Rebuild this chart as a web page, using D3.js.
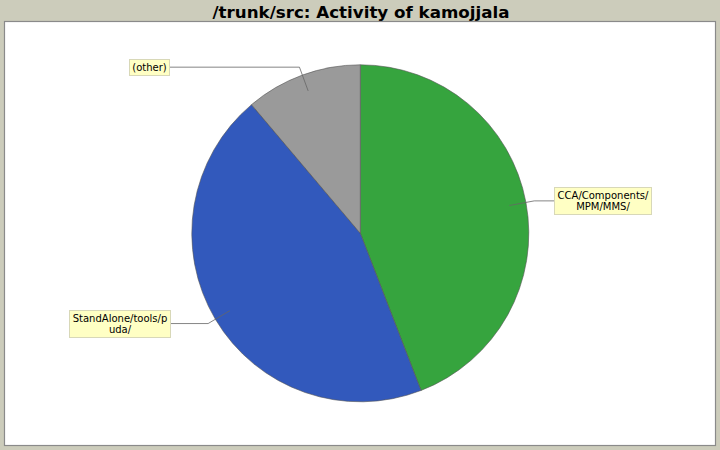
<!DOCTYPE html>
<html>
<head>
<meta charset="utf-8">
<script src="https://cdn.jsdelivr.net/npm/d3@7"></script>
<style>
  html, body { margin: 0; padding: 0; background: #ccccbb; }
  svg { display: block; }
</style>
</head>
<body>
<div id="graphHolder"></div>
<script>
// chart data
var title = "/trunk/src: Activity of kamojjala";
var categories = ["CCA/Components/MPM/MMS/", "StandAlone/tools/puda/", "(other)"];
var labelLines = [["CCA/Components/", "MPM/MMS/"], ["StandAlone/tools/p", "uda/"], ["(other)"]];
var values = [79, 80, 20];
var colors = ["#36a43e", "#3259bc", "#9a9a9a"];

var graphWidth = 720;
var graphHeight = 450;

function drawPieChart() {
    var cx = 360.3, cy = 233.3, r = 168.5;

    var svg = d3.select("#graphHolder")
            .append("svg").attr("id", "graph")
            .attr("width", graphWidth)
            .attr("height", graphHeight);

    svg.append("rect")
            .attr("width", graphWidth)
            .attr("height", graphHeight)
            .attr("fill", "#ccccbb");

    var tt = svg.append("text")
            .attr("x", 361)
            .attr("y", 17.5)
            .attr("text-anchor", "middle")
            .attr("font-family", "'DejaVu Sans', sans-serif")
            .attr("font-weight", "bold")
            .attr("font-size", "16.5px")
            .attr("fill", "#000")
            .text(title);
    // squeeze the title to the width seen in the picture
    tt.attr("textLength", 297).attr("lengthAdjust", "spacingAndGlyphs");

    // plot area
    svg.append("rect")
            .attr("x", 4.5).attr("y", 21.5)
            .attr("width", 711).attr("height", 424)
            .attr("fill", "#fff")
            .attr("stroke", "#8a8a8a")
            .attr("stroke-width", 1.2);

    var pie = d3.pie().sort(null).value(function (d) { return d; });
    var arcs = pie(values);

    var arc = d3.arc().innerRadius(0).outerRadius(r);

    var g = svg.append("g")
            .attr("transform", "translate(" + cx + "," + cy + ")");

    g.selectAll("path.slice")
            .data(arcs)
            .enter().append("path")
            .attr("class", "slice")
            .attr("fill", function (d, i) { return colors[i]; })
            .attr("stroke", "#555")
            .attr("stroke-width", 0.6)
            .attr("d", arc);

    // labels with links
    arcs.forEach(function (d, i) {
        var a = (d.startAngle + d.endAngle) / 2;
        var sx = Math.sin(a), sy = -Math.cos(a);
        var right = sx > 0;
        var p0 = [cx + 0.9 * r * sx, cy + 0.9 * r * sy];
        var p1 = [cx + 1.05 * r * sx, cy + 1.05 * r * sy];
        var lines = labelLines[i];
        var lh = 11.5;
        var boxH = lines.length * lh + 4;
        var tmp = svg.append("text")
                .attr("font-family", "'DejaVu Sans', sans-serif")
                .attr("font-size", "10px");
        var w = 0;
        lines.forEach(function (t) {
            tmp.text(t);
            w = Math.max(w, tmp.node().getComputedTextLength());
        });
        tmp.remove();
        var boxW = w + 6;
        var bx = right ? cx + r + 25.5 : cx - r - 22 - boxW;
        var by = p1[1] - boxH / 2;
        var ex = right ? bx : bx + boxW;

        svg.append("path")
                .attr("fill", "none")
                .attr("stroke", "#666")
                .attr("stroke-width", 0.8)
                .attr("d", "M" + p0[0] + "," + p0[1] + "L" + p1[0] + "," + p1[1] + "L" + ex + "," + p1[1]);

        svg.append("rect")
                .attr("x", Math.round(bx) + 0.5)
                .attr("y", Math.round(by) + 0.5)
                .attr("width", Math.round(boxW))
                .attr("height", Math.round(boxH))
                .attr("fill", "#ffffc4")
                .attr("stroke", "#d8d8b8")
                .attr("stroke-width", 1);

        var t = svg.append("text")
                .attr("font-family", "'DejaVu Sans', sans-serif")
                .attr("font-size", "10px")
                .attr("fill", "#000")
                .attr("text-anchor", "middle");
        lines.forEach(function (s, k) {
            t.append("tspan")
                    .attr("x", Math.round(bx) + Math.round(boxW) / 2 + 0.5)
                    .attr("y", Math.round(by) + 11.5 + k * lh)
                    .text(s);
        });
    });
}

drawPieChart();
</script>
</body>
</html>
